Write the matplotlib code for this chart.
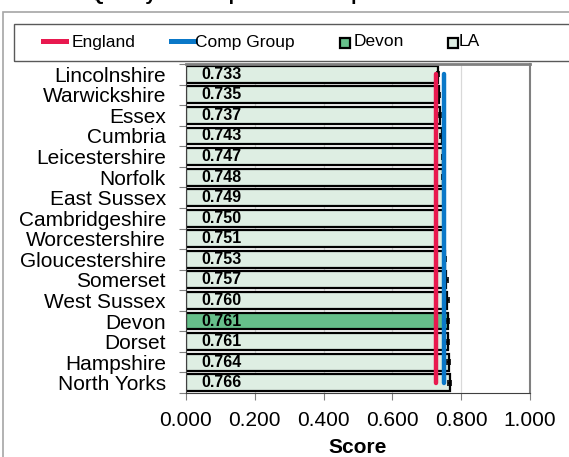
import numpy as np
import matplotlib
matplotlib.use("Agg")
import matplotlib.pyplot as plt
from matplotlib.lines import Line2D
from matplotlib.patches import Rectangle

plt.rcParams['font.family'] = ['Liberation Sans', 'DejaVu Sans']

# === data ===
areas = ['Lincolnshire', 'Warwickshire', 'Essex', 'Cumbria', 'Leicestershire',
         'Norfolk', 'East Sussex', 'Cambridgeshire', 'Worcestershire',
         'Gloucestershire', 'Somerset', 'West Sussex', 'Devon', 'Dorset',
         'Hampshire', 'North Yorks']
scores = [0.733, 0.735, 0.737, 0.743, 0.747, 0.748, 0.749, 0.750, 0.751,
          0.753, 0.757, 0.760, 0.761, 0.761, 0.764, 0.766]
ci = [0.003, 0.003, 0.003, 0.004, 0.003, 0.003, 0.003, 0.004, 0.003,
      0.004, 0.004, 0.004, 0.004, 0.004, 0.004, 0.004]
england = 0.727
comp_group = 0.750
highlight = 'Devon'
x_ticks = [0.0, 0.2, 0.4, 0.6, 0.8, 1.0]
legend_labels = ['England', 'Comp Group', 'Devon', 'LA']

RED = '#E8194F'
BLUE = '#0A78C8'
DEVON = '#66BF8A'
LA = '#DEEEE3'

W, H = 569, 457
fig = plt.figure(figsize=(W / 100, H / 100), dpi=100)


def fx(px):
    return px / W


def fy(py):
    return 1 - py / H


# chart border + title (cut off at the top, as in the source image)
fig.patches.append(Rectangle((fx(3), -0.05), 1.0, fy(12) + 0.05, transform=fig.transFigure,
                             fill=False, edgecolor='#A6A6A6', lw=1.2))
fig.text(fx(262), 1.0, 'Quality of Comparison Group Scores', ha='center', va='baseline',
         fontsize=14, fontweight='bold')

ax = fig.add_axes([fx(186), fy(393), 344 / W, 329 / H])

y = np.arange(len(areas))
colors = [DEVON if a == highlight else LA for a in areas]
ax.barh(y, scores, height=0.82, color=colors, edgecolor='black', linewidth=1.6, zorder=2)
ax.errorbar(scores, y, xerr=ci, fmt='none', ecolor='black', elinewidth=1.2,
            capsize=2, capthick=1.2, zorder=3)

for yi, s in zip(y, scores):
    ax.text(0.046, yi, f'{s:.3f}', va='center', ha='left', fontsize=11.5,
            fontweight='bold', zorder=4)

ax.plot([england, england], [0, len(areas) - 1], color=RED, lw=3.2,
        solid_capstyle='round', zorder=5)
ax.plot([comp_group, comp_group], [0, len(areas) - 1], color=BLUE, lw=3.2,
        solid_capstyle='round', zorder=5)

ax.set_xlim(0, 1.0)
ax.set_ylim(len(areas) - 0.5, -0.5)
ax.set_xticks(x_ticks)
ax.set_xticklabels([f'{t:.3f}' for t in x_ticks], fontsize=15)
ax.tick_params(axis='x', length=5, color='#808080', pad=8)
ax.grid(axis='x', color='#D9D9D9', lw=0.9, zorder=0)

ax.set_yticks(np.arange(len(areas) + 1) - 0.5)
ax.set_yticklabels([])
ax.set_yticks(y, minor=True)
ax.set_yticklabels(areas, minor=True, fontsize=15)
ax.tick_params(axis='y', which='major', length=5, color='#808080')
ax.tick_params(axis='y', which='minor', length=0, pad=14.4)

ax.set_xlabel('Score', fontsize=15, fontweight='bold', labelpad=5.5)

for side in ['top', 'right']:
    ax.spines[side].set_color('#808080')
ax.spines['top'].set_linewidth(2)
ax.spines['right'].set_linewidth(1.5)
ax.spines['left'].set_color('#404040')
ax.spines['bottom'].set_color('#404040')

# legend box, drawn by hand to match the Excel layout
fig.patches.append(Rectangle((fx(14), fy(61)), 1.0, 37 / H, transform=fig.transFigure,
                             fill=False, edgecolor='#595959', lw=1.0))
leg_y = fy(42)
fig.add_artist(Line2D([fx(43), fx(66)], [fy(40.5)] * 2, color=RED, lw=3.6))
fig.text(fx(72), leg_y, legend_labels[0], fontsize=12.5, va='center', ha='left')
fig.add_artist(Line2D([fx(171), fx(195)], [fy(40.5)] * 2, color=BLUE, lw=3.6))
fig.text(fx(195), leg_y, legend_labels[1], fontsize=12.5, va='center', ha='left')
fig.add_artist(Line2D([fx(344.5)], [fy(42.5)], marker='s', ls='none', markersize=6.5,
                      markerfacecolor=DEVON, markeredgecolor='black', markeredgewidth=1.6))
fig.text(fx(354), leg_y, legend_labels[2], fontsize=12.5, va='center', ha='left')
fig.add_artist(Line2D([fx(453)], [fy(42.5)], marker='s', ls='none', markersize=6.5,
                      markerfacecolor=LA, markeredgecolor='black', markeredgewidth=1.6))
fig.text(fx(459), leg_y, legend_labels[3], fontsize=12.5, va='center', ha='left')

fig.savefig('out.png', dpi=100)
